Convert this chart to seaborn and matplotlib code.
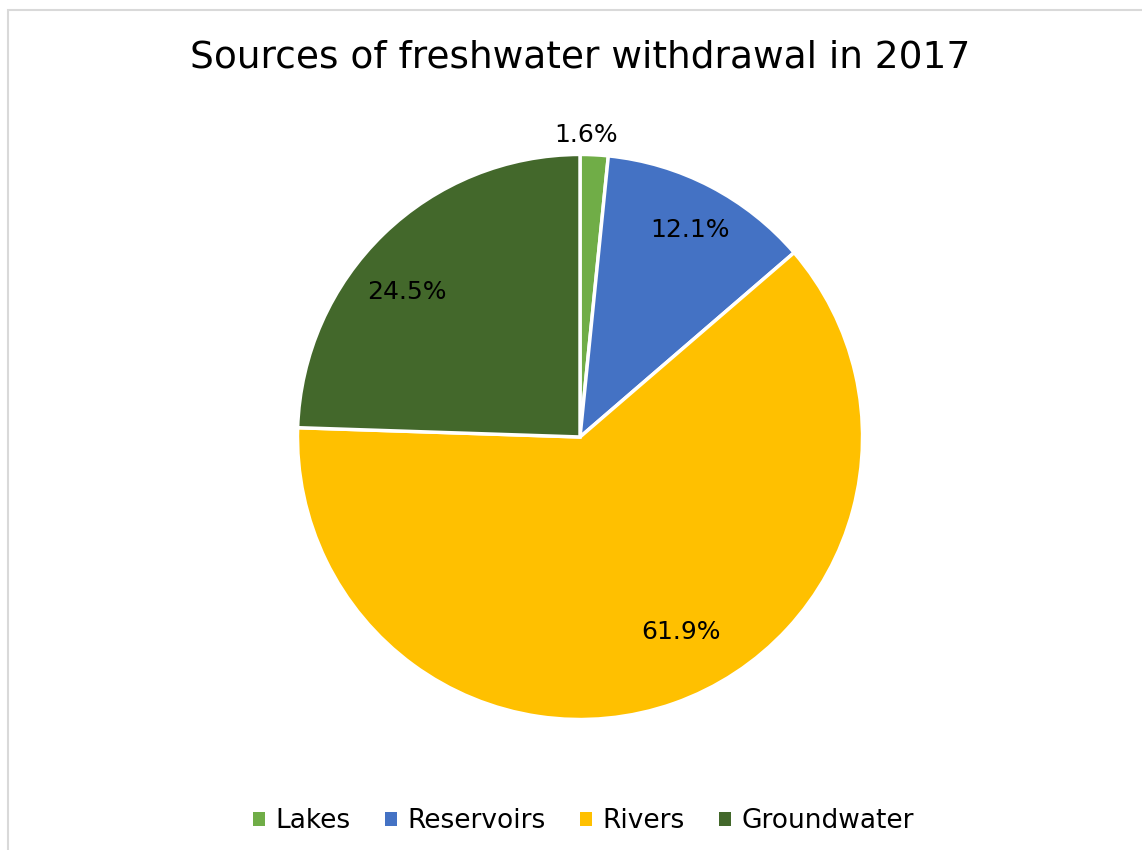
import numpy as np
import matplotlib
matplotlib.use("Agg")
import matplotlib.pyplot as plt
import seaborn as sns
from matplotlib.patches import Patch, Rectangle

# Data
sources = ["Lakes", "Reservoirs", "Rivers", "Groundwater"]
shares = [1.6, 12.1, 61.9, 24.5]
colors = ["#70AD47", "#4472C4", "#FFC000", "#43682B"]

sns.set_theme(style="white")
plt.rcParams['font.family'] = ['DejaVu Sans']
plt.rcParams['text.color'] = 'black'

total = sum(shares)

fig = plt.figure(figsize=(11.42, 8.5), dpi=100)
# light chart-area border (cut off at right/bottom as in the original)
fig.patches.append(Rectangle((8 / 1142, -0.02), 1.1, 1 - 10 / 850 + 0.02,
                             transform=fig.transFigure, fill=False,
                             edgecolor="#D9D9D9", linewidth=1.5))

ax = fig.add_axes([0.5079 - 0.2474, 0.4859 - 0.3324, 0.4948, 0.6648])
wedges, texts, autotexts = ax.pie(
    shares, colors=colors, startangle=90, counterclock=False,
    autopct=lambda p: f"{p * total / 100:.1f}%", pctdistance=0.8,
    wedgeprops=dict(edgecolor="white", linewidth=2.5),
    textprops=dict(fontsize=18, color="black"))
ax.set_xlim(-1, 1)
ax.set_ylim(-1, 1)
ax.set_aspect("equal")

# smallest slice: label just outside the pie, above it
autotexts[0].set_position((0.02, 1.07))
# Excel-like "best fit" nudges for the inside labels
for t, dang, rad in zip(autotexts[1:], [0.4, -7.9, -5.9], [0.83, 0.775, 0.80]):
    w = wedges[autotexts.index(t)]
    a = np.deg2rad((w.theta1 + w.theta2) / 2 - dang)
    t.set_position((rad * np.cos(a), rad * np.sin(a)))

fig.text(0.508, 0.932, "Sources of freshwater withdrawal in 2017",
         ha="center", va="center", fontsize=27, color="black")

handles = [Patch(facecolor=c, edgecolor="none") for c in colors]
leg = fig.legend(handles, sources, loc="center", bbox_to_anchor=(0.511, 0.034),
                 ncol=4, frameon=False, fontsize=19, handlelength=0.45,
                 handleheight=0.45, handletextpad=0.4, columnspacing=1.3)
for t in leg.get_texts():
    t.set_color("black")

fig.savefig("out.png", dpi=100)
